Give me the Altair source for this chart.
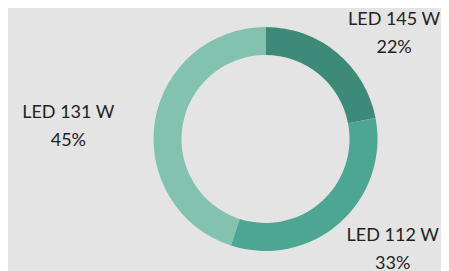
import altair as alt
import pandas as pd

categories = ["LED 145 W", "LED 112 W", "LED 131 W"]
values = [22, 33, 45]
colors = ["#3e8a78", "#4ca693", "#82c2ae"]

total = sum(values)
df = pd.DataFrame({
    "cat": categories,
    "value": values,
    "idx": list(range(len(categories))),
})
df["label"] = [f"{c}\n{round(v / total * 100)}%" for c, v in zip(categories, values)]

theta_scale = alt.Scale(domain=[0, total])

base = (
    alt.Chart(df)
    .transform_window(end="sum(value)", sort=[alt.SortField("idx")], frame=[None, 0])
    .transform_calculate(start="datum.end - datum.value", mid="datum.end - datum.value / 2")
)

arc = base.mark_arc(outerRadius=112, innerRadius=84, stroke=None).encode(
    theta=alt.Theta("start:Q", scale=theta_scale, stack=None),
    theta2="end:Q",
    color=alt.Color("cat:N", scale=alt.Scale(domain=categories, range=colors), legend=None),
)

offsets = {
    "LED 145 W": (33, -3),
    "LED 112 W": (28, -16),
    "LED 131 W": (-49, -3),
}
layers = [arc]
for c in categories:
    dx, dy = offsets[c]
    layers.append(
        base.transform_filter(alt.datum.cat == c).mark_text(
            radius=150, dx=dx, dy=dy, lineBreak="\n", lineHeight=28,
            fontSize=18, font="Lato", color="#222222", align="center", baseline="middle",
        ).encode(
            theta=alt.Theta("mid:Q", scale=theta_scale, stack=None),
            text="label:N",
        )
    )

chart = alt.layer(*layers).properties(
    width=351, height=248,
    padding={"left": 82, "top": 7, "right": 0, "bottom": 12},
    autosize="none",
    background="#e4e4e4",
).configure_view(stroke=None)

chart.save("out.html", embed_options={"renderer": "svg", "actions": False})
